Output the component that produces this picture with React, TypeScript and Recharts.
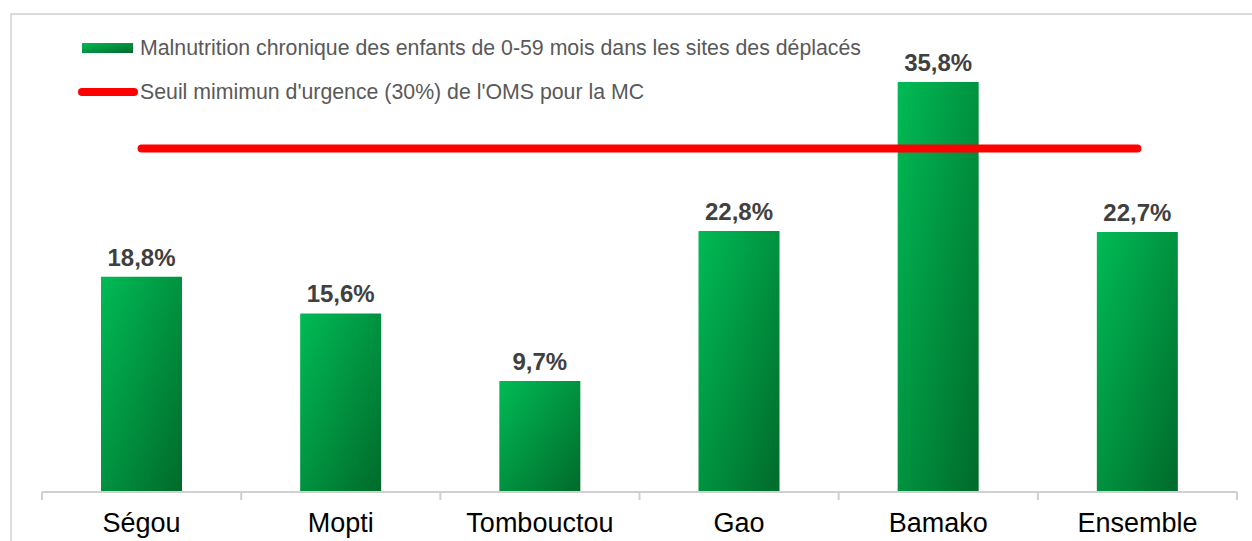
import React from 'react';
import { ComposedChart, Bar, Line, XAxis, YAxis, LabelList } from 'recharts';

const regions = ['Ségou', 'Mopti', 'Tombouctou', 'Gao', 'Bamako', 'Ensemble'];
const malnutrition = [18.8, 15.6, 9.7, 22.8, 35.8, 22.7];
const seuilOMS = [30, 30, 30, 30, 30, 30];

const barLabel = 'Malnutrition chronique des enfants de 0-59 mois dans les sites des déplacés';
const lineLabel = "Seuil mimimun d'urgence (30%) de l'OMS pour la MC";

const data = regions.map((region, i) => ({
  region,
  mc: malnutrition[i],
  seuil: seuilOMS[i],
}));

const FONT = '"Liberation Sans", Arial, sans-serif';
const WIDTH = 1252;
const HEIGHT = 541;
const MARGIN = { top: 34, right: 15, bottom: 0, left: 42 };
const BAND = (WIDTH - MARGIN.left - MARGIN.right) / regions.length;

const formatPct = (v: number) => `${v.toFixed(1).replace('.', ',')}%`;

const CategoryTick = (props: any) => {
  const { x, y, payload, index } = props;
  const half = BAND / 2;
  return (
    <g>
      <line x1={x - half} y1={y - 8} x2={x - half} y2={y} stroke="#d0d0d0" strokeWidth={2} />
      {index === regions.length - 1 && (
        <line x1={x + half} y1={y - 8} x2={x + half} y2={y} stroke="#d0d0d0" strokeWidth={2} />
      )}
      <text x={x} y={y + 32} textAnchor="middle" fontFamily={FONT} fontSize={27} fill="#000">
        {payload.value}
      </text>
    </g>
  );
};

const LegendBox = () => (
  <div style={{ position: 'absolute', left: 78, top: 36, fontFamily: FONT, fontSize: 21.3, color: '#595959', lineHeight: '24px' }}>
    <div style={{ display: 'flex', alignItems: 'center', height: 24 }}>
      <svg width={62} height={12}>
        <rect x={4} y={1} width={51} height={10} fill="url(#mcGradientLegend)" />
        <defs>
          <linearGradient id="mcGradientLegend" x1="0" y1="0" x2="1" y2="1">
            <stop offset="0%" stopColor="#00bb55" />
            <stop offset="100%" stopColor="#006a2b" />
          </linearGradient>
        </defs>
      </svg>
      <span>{barLabel}</span>
    </div>
    <div style={{ display: 'flex', alignItems: 'center', height: 24, marginTop: 20 }}>
      <svg width={62} height={12}>
        <line x1={4} y1={6} x2={56} y2={6} stroke="#ff0000" strokeWidth={8} strokeLinecap="round" />
      </svg>
      <span>{lineLabel}</span>
    </div>
  </div>
);

export default function App() {
  return (
    <div style={{ position: 'absolute', left: 0, top: 0, width: WIDTH, height: HEIGHT, background: '#fff', overflow: 'hidden' }}>
      <div
        style={{
          position: 'absolute',
          left: 10,
          top: 13,
          width: WIDTH + 20,
          height: HEIGHT + 20,
          borderTop: '2px solid #dcdcdc',
          borderLeft: '2px solid #dcdcdc',
        }}
      />
      <div style={{ position: 'absolute', left: 0, top: 0 }}>
        <ComposedChart width={WIDTH} height={HEIGHT} data={data} margin={MARGIN}>
          <defs>
            <linearGradient id="mcGradient" x1="0" y1="0" x2="1" y2="1">
              <stop offset="0%" stopColor="#00bb55" />
              <stop offset="100%" stopColor="#006a2b" />
            </linearGradient>
          </defs>
          <XAxis
            dataKey="region"
            height={49}
            axisLine={{ stroke: '#d0d0d0', strokeWidth: 2 }}
            tickLine={false}
            tick={<CategoryTick />}
            interval={0}
          />
          <YAxis hide domain={[0, 40]} />
          <Bar dataKey="mc" name={barLabel} barSize={81} fill="url(#mcGradient)" isAnimationActive={false}>
            <LabelList
              dataKey="mc"
              position="top"
              offset={11}
              formatter={(v: any) => formatPct(Number(v))}
              style={{ fontFamily: FONT, fontSize: 24, fontWeight: 'bold', fill: '#404040' }}
            />
          </Bar>
          <Line
            dataKey="seuil"
            name={lineLabel}
            stroke="#ff0000"
            strokeWidth={8}
            strokeLinecap="round"
            dot={false}
            activeDot={false}
            isAnimationActive={false}
          />
        </ComposedChart>
      </div>
      <LegendBox />
    </div>
  );
}
